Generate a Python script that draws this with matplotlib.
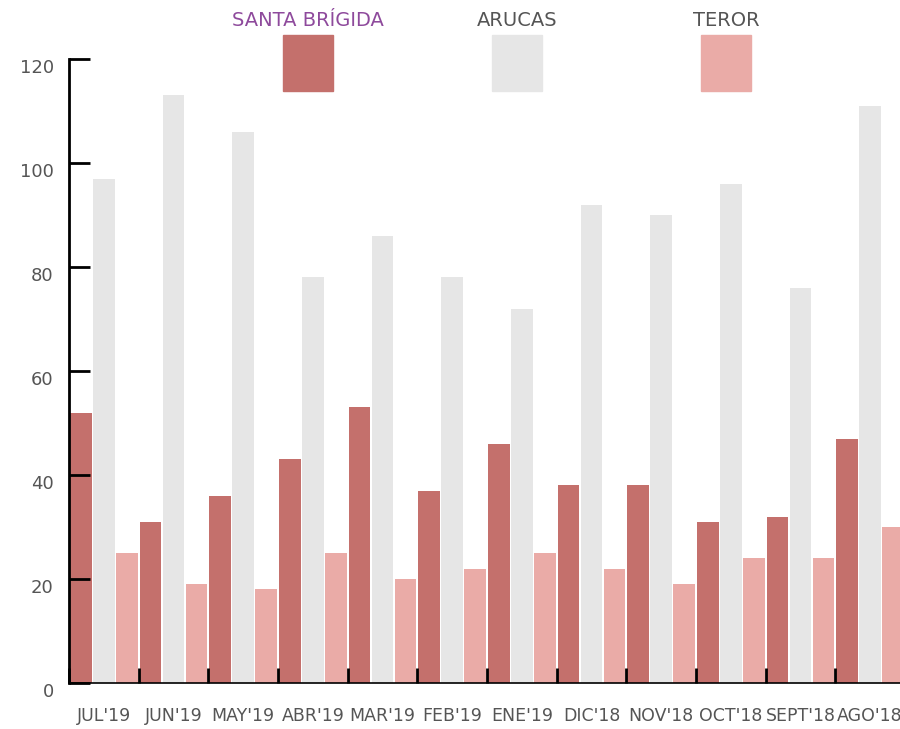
import numpy as np
import matplotlib
matplotlib.use("Agg")
import matplotlib.pyplot as plt
import matplotlib.transforms as mtransforms
from matplotlib.patches import Rectangle

plt.rcParams["font.family"] = ["DejaVu Sans"]

months = ["JUL'19", "JUN'19", "MAY'19", "ABR'19", "MAR'19", "FEB'19",
          "ENE'19", "DIC'18", "NOV'18", "OCT'18", "SEPT'18", "AGO'18"]
santa_brigida = [52, 31, 36, 43, 53, 37, 46, 38, 38, 31, 32, 47]
arucas = [97, 113, 106, 78, 86, 78, 72, 92, 90, 96, 76, 111]
teror = [25, 19, 18, 25, 20, 22, 25, 22, 19, 24, 24, 30]

series = ["SANTA BRÍGIDA", "ARUCAS", "TEROR"]
colors = ["#c4706c", "#e6e6e6", "#eaaba7"]
label_colors = ["#8e4a9c", "#555555", "#555555"]

fig = plt.figure(figsize=(9, 7.29), dpi=100)
ax = fig.add_axes([69 / 900, 46 / 729, (905 - 69) / 900, 624 / 729])

x = np.arange(len(months))
w = 0.31
ax.bar(x + 0.17, santa_brigida, w, color=colors[0])
ax.bar(x + 0.50, arucas, w, color=colors[1])
ax.bar(x + 0.83, teror, w, color=colors[2])

ax.set_xlim(0, len(months))
ax.set_ylim(0, 120)

for s in ["top", "right"]:
    ax.spines[s].set_visible(False)
ax.spines["left"].set_linewidth(2)
ax.spines["bottom"].set_linewidth(1.2)

ax.set_yticks(range(0, 121, 20))
ax.tick_params(axis="y", direction="in", length=15, width=2, pad=11,
               labelsize=13, labelcolor="#555555")
offset = mtransforms.ScaledTranslation(0, -7 / 100, fig.dpi_scale_trans)
for lab in ax.get_yticklabels():
    lab.set_transform(lab.get_transform() + offset)

ax.set_xticks(x + 0.5)
ax.set_xticklabels(months)
ax.set_xticks(np.arange(len(months) + 1), minor=True)
ax.tick_params(axis="x", which="major", length=0, pad=17, labelsize=12.5,
               labelcolor="#555555")
ax.tick_params(axis="x", which="minor", direction="in", length=11, width=2)

# legend: label above a square swatch
centers = [308, 517, 726]
for name, c, lc, cx in zip(series, colors, label_colors, centers):
    fig.text(cx / 900, 1 - 20 / 729, name, ha="center", va="center",
             fontsize=14, color=lc)
    fig.add_artist(Rectangle(((cx - 25) / 900, 1 - 91 / 729), 50 / 900, 56 / 729,
                             transform=fig.transFigure, color=c))

fig.savefig("out.png", dpi=100)
